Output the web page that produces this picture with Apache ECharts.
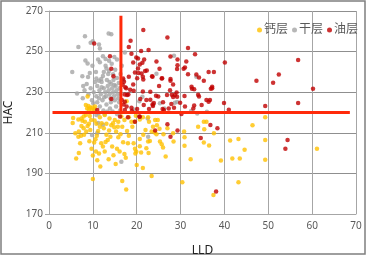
<!DOCTYPE html>
<html>
<head>
<meta charset="utf-8">
<script src="https://cdn.jsdelivr.net/npm/echarts@6/dist/echarts.min.js"></script>
<style>
html,body{margin:0;padding:0;background:#fff}
#chart{width:367px;height:256px}
</style>
</head>
<body>
<div id="chart"></div>
<script>
// series names, legend order
var names = ["钙层", "干层", "油层"];
var xTicks = [0, 70, 10];   // min, max, step
var yTicks = [170, 270, 20];

// [LLD, HAC]
var caLayer = [
	[8.8,227.9],[8.4,223.7],[9.0,223.2],[9.4,222.5],[9.9,222.5],[9.1,221.6],[9.7,221.2],[10.3,221.9],[8.7,222.0],[10.5,222.9],
	[5.5,217.3],[5.4,214.8],[6.7,216.6],[7.4,217.1],[7.9,218.0],[8.4,218.8],[9.3,218.3],[17.7,225.5],
	[6.0,209.8],[6.7,208.1],[6.8,210.6],[7.1,204.9],[7.4,213.4],[7.9,212.2],[8.2,215.5],[8.5,210.6],[8.8,213.4],[9.1,214.4],[9.4,211.4],[9.6,216.3],[7.3,208.5],[8.0,209.1],
	[6.2,197.3],[6.8,200.0],[9.7,202.2],[10.0,198.8],[10.0,187.2],[10.7,200.8],[11.4,199.8],[11.7,193.4],[10.3,205.2],[10.6,206.8],[10.9,208.5],[11.2,210.9],[11.6,213.0],[10.8,214.4],
	[12.0,214.7],[12.5,212.2],[12.3,203.2],[11.9,204.9],[12.7,200.8],[13.1,209.0],[13.4,206.5],[13.7,211.1],[14.2,213.7],[14.6,214.7],[14.9,212.7],[15.3,210.6],[15.8,215.5],
	[14.4,203.2],[14.7,199.0],[15.2,194.6],[15.8,207.8],[16.3,209.3],[16.7,213.0],[15.5,202.1],[16.1,200.8],[16.7,186.2],[17.6,182.1],[17.5,197.7],[17.2,199.6],
	[18.0,204.9],[18.2,208.6],[17.8,210.9],[19.0,213.0],[19.5,215.5],[17.2,216.3],[18.2,217.6],[16.5,218.0],[19.3,204.9],[19.6,202.2],[19.9,200.8],[19.7,199.8],
	[20.7,207.0],[20.7,203.4],[21.0,200.3],[20.0,194.1],[21.4,192.6],[22.6,205.7],[22.2,202.4],[22.7,200.0],[23.4,188.7],[22.6,217.6],[22.8,215.5],[24.2,216.3],[24.8,216.3],
	[23.7,213.0],[24.6,213.7],[24.1,210.1],[24.5,209.3],[25.3,205.7],[25.7,204.4],[26.0,202.7],[26.6,198.3],[26.1,209.3],[28.3,209.8],[28.4,205.7],
	[30.8,210.6],[30.9,207.8],[30.9,203.6],[30.4,185.7],[32.3,197.0],[34.0,213.0],[35.3,215.5],[35.9,215.5],[35.3,205.2],[35.4,211.7],[36.5,203.7],[37.6,209.8],[37.5,179.3],
	[39.2,196.4],[41.3,206.2],[41.8,197.3],[43.2,207.0],[43.5,197.3],[44.6,201.6],[43.2,185.6],[46.4,213.7],[49.3,217.6],[49.3,206.5],[49.3,196.7],[61.1,202.1],
	[11.6,217.6],[12.7,218.8],[13.8,217.1],[15.0,216.3],[13.1,214.5],[10.4,216.0],[15.7,213.0],[18.8,215.5],[19.8,218.4],[20.7,216.6],[21.4,217.6],[22.0,211.4],[23.4,210.6],
	[27.0,212.2],[12.9,205.5],[14.0,208.0],[16.9,205.4],[21.5,209.0],[23.0,206.0],[11.0,196.5],[13.6,197.0],[9.2,205.8],[7.6,215.9],[25.2,212.0]
];
var dryLayer = [
	[8.2,257.6],[6.7,252.3],[5.3,240.0],[7.6,237.9],[8.3,245.6],[8.8,244.1],[9.5,254.3],[10.0,255.1],[11.6,251.5],[11.4,253.5],[13.6,258.9],[14.2,258.6],
	[11.6,244.8],[11.2,246.1],[12.3,247.7],[12.9,246.4],[14.9,247.4],[15.5,246.1],[17.3,249.6],[9.3,239.5],[10.8,236.8],[11.4,235.6],[13.1,241.7],[13.7,240.4],
	[12.5,240.0],[14.6,238.9],[6.4,229.4],[7.7,227.0],[7.8,233.0],[8.9,237.5],[28.5,247.9],[24.5,239.1],[33.6,237.6],[28.7,224.8],[29.2,225.2],[32.4,220.7],
	[26.3,222.0],[22.5,217.1],[22.6,208.1],[21.3,227.8],[20.6,225.6],[25.3,224.5],[23.8,224.0],[10.8,218.8],[16.5,195.8],[36.0,220.4],
	[9.5,232],[10.2,230],[10.8,228],[11.0,233],[11.5,231],[11.8,229],[12.0,235],[12.2,226],[12.5,232],[12.8,230],[13.0,228],[13.2,236],[13.4,233],[13.6,231],
	[13.8,229],[14.0,227],[14.2,234],[14.4,232],[14.6,230],[14.8,228],[15.0,226],[15.2,233],[15.4,231],[15.6,229],[15.8,227],[16.0,225],[16.1,232],[12.3,238],
	[13.5,239],[14.7,236],[15.5,237],[11.0,225],[11.6,223],[12.4,221],[13.1,224],[13.9,222],[14.5,220.5],[15.3,223],[16.2,221],[10.4,221],[9.8,226],[9.0,229],
	[8.6,234],[8.1,231],[10.5,235],[12.9,243],[14.3,244],[13.7,245.5],[15.1,241],[16.3,239],[17.0,236],[11.3,219.5],[12.7,219],[13.3,220.5],[15.9,234.5],
	[14.1,225],[12.6,227.5],[11.9,236.5],[10.7,240],[9.9,243],[16.6,243],[11.2,214.8],[11.0,209.9],[12.3,214.0],[9.8,208.9],[15.5,219.2],[13.8,235],[12.0,232.5],
	[14.9,233.5],[11.4,227],[16.4,229],[10.1,224.5],[33.8,219.5],[19.3,221.5]
];
var oilLayer = [
	[10.3,254.0],[21.5,260.7],[27.0,256.9],[18.6,255.3],[18.2,252.3],[22.7,250.8],[21.0,250.3],[31.7,251.8],[33.3,248.7],[18.8,248.9],[19.9,247.1],[20.3,246.6],
	[13.9,247.7],[21.7,246.1],[24.5,245.1],[27.7,247.6],[29.3,246.1],[21.3,244.5],[19.2,244.6],[31.3,245.1],[29.3,243.3],[40.1,244.6],[56.8,245.9],
	[14.2,241.5],[25.2,241.5],[30.7,241.5],[31.0,242.2],[29.2,241.4],[21.9,240.4],[22.3,240.7],[20.4,239.4],[31.7,238.9],[36.4,240.0],[37.6,240.0],[52.4,238.7],
	[14.7,237.8],[18.2,237.6],[21.4,237.6],[23.5,237.8],[25.8,236.9],[20.1,236.9],[34.2,237.2],[16.9,236.7],[17.1,235.1],[16.8,233.7],[27.7,235.7],[35.3,235.6],
	[47.3,235.6],[51.1,234.6],[19.2,233.8],[28.3,233.8],[32.5,232.7],[32.6,231.7],[37.2,232.7],[36.9,231.7],[37.2,232.0],[60.2,231.7],[27.6,231.0],[23.1,230.2],
	[21.4,230.4],[17.6,231.9],[18.5,231.2],[19.3,230.7],[29.1,229.9],[24.4,228.3],[24.9,227.9],[30.9,228.1],[34.0,228.8],[34.2,227.9],[28.0,228.8],[28.3,227.6],
	[29.2,227.8],[17.3,228.9],[18.1,228.9],[14.2,226.6],[23.1,226.3],[22.2,226.1],[20.8,226.6],[35.9,226.1],[36.4,225.3],[36.7,226.1],[39.9,224.7],[56.8,224.7],
	[27.9,224.2],[29.9,224.8],[23.6,224.0],[23.9,224.7],[16.6,226.1],[17.3,225.3],[31.0,223.0],[33.1,223.4],[49.3,223.2],[26.2,221.2],[41.0,221.4],[11.0,221.2],
	[18.9,220.7],[17.3,221.2],[30.2,219.3],[20.6,218.0],[16.2,218.0],[36.8,213.9],[27.0,214.2],[38.4,212.2],[24.2,211.1],[29.3,211.1],[34.6,207.5],[27.7,208.1],
	[54.4,206.5],[53.9,202.2],[38.1,181.1],[18.0,217.6],[19.6,215.5],[20.7,217.9],[21.1,239.2],[21.5,236.3],[23.6,237.6],[25.1,233.0],[25.7,236.8],[27.7,236.5],
	[33.6,238.7],[33.1,231.4],[28.7,228.6],[26.9,228.6],[26.0,225.0],[17.8,228.6],[17.4,232.4],[17.7,222.9],[18.8,222.4],[20.1,221.7],[21.6,223.7],[22.8,221.7],
	[23.7,223.2],[25.9,221.7],[27.3,222.0],[28.5,222.4],[32.9,222.0],[34.8,223.7],[19.6,239.7],[20.3,241.7],[20.7,243.6],[17.0,224.0]
];
// cut-off lines
var hLine = [[0.8, 220], [68.6, 220]];
var vLine = [[16.4, 220], [16.4, 267.7]];

var colors = ["#ffc000", "#a5a5a5", "#c00000"];
var font = "'Noto Sans', 'Noto Sans CJK SC', sans-serif";

var chart = echarts.init(document.getElementById("chart"));

function pts(name, data, color) {
	return {
		name: name,
		type: "scatter",
		data: data,
		symbol: "circle",
		symbolSize: 4.5,
		itemStyle: { color: color },
		emphasis: { disabled: true }
	};
}
function cut(data) {
	return {
		type: "line",
		data: data,
		symbol: "none",
		silent: true,
		lineStyle: { color: "#ff2a0a", width: 3 },
		z: 5
	};
}

chart.setOption({
	animation: false,
	grid: { left: 49, right: 11, top: 11, bottom: 42, outerBoundsMode: "none", containLabel: false },
	graphic: [{
		type: "rect",
		shape: { x: 1, y: 1, width: 364, height: 253 },
		style: { fill: "none", stroke: "#7f7f7f", lineWidth: 1.5 },
		silent: true
	}],
	legend: {
		data: names,
		left: 257,
		top: 24,
		padding: 0,
		itemWidth: 5,
		itemHeight: 5,
		itemGap: 4,
		icon: "circle",
		textStyle: { fontFamily: font, fontSize: 12, color: "#595959", padding: [0, 0, 0, -3] }
	},
	xAxis: {
		type: "value",
		min: xTicks[0], max: xTicks[1], interval: xTicks[2],
		name: "LLD",
		nameLocation: "middle",
		nameGap: 31,
		nameTextStyle: { fontFamily: font, fontSize: 12, color: "#222" },
		axisLine: { lineStyle: { color: "#a6a6a6" } },
		axisTick: { show: false },
		axisLabel: { fontFamily: font, fontSize: 10, color: "#595959", margin: 7 },
		splitLine: { lineStyle: { color: "#a6a6a6" } }
	},
	yAxis: {
		type: "value",
		min: yTicks[0], max: yTicks[1], interval: yTicks[2],
		name: "HAC",
		nameLocation: "middle",
		nameGap: 30,
		nameTextStyle: { fontFamily: font, fontSize: 12, color: "#222" },
		axisLine: { show: true, lineStyle: { color: "#a6a6a6" } },
		axisTick: { show: true, length: 4, lineStyle: { color: "#a6a6a6" } },
		axisLabel: { fontFamily: font, fontSize: 10, color: "#595959", margin: 6 },
		splitLine: { lineStyle: { color: "#8f8f8f" } }
	},
	series: [
		pts(names[1], dryLayer, colors[1]),
		pts(names[0], caLayer, colors[0]),
		pts(names[2], oilLayer, colors[2]),
		cut(hLine),
		cut(vLine)
	]
});
</script>
</body>
</html>
